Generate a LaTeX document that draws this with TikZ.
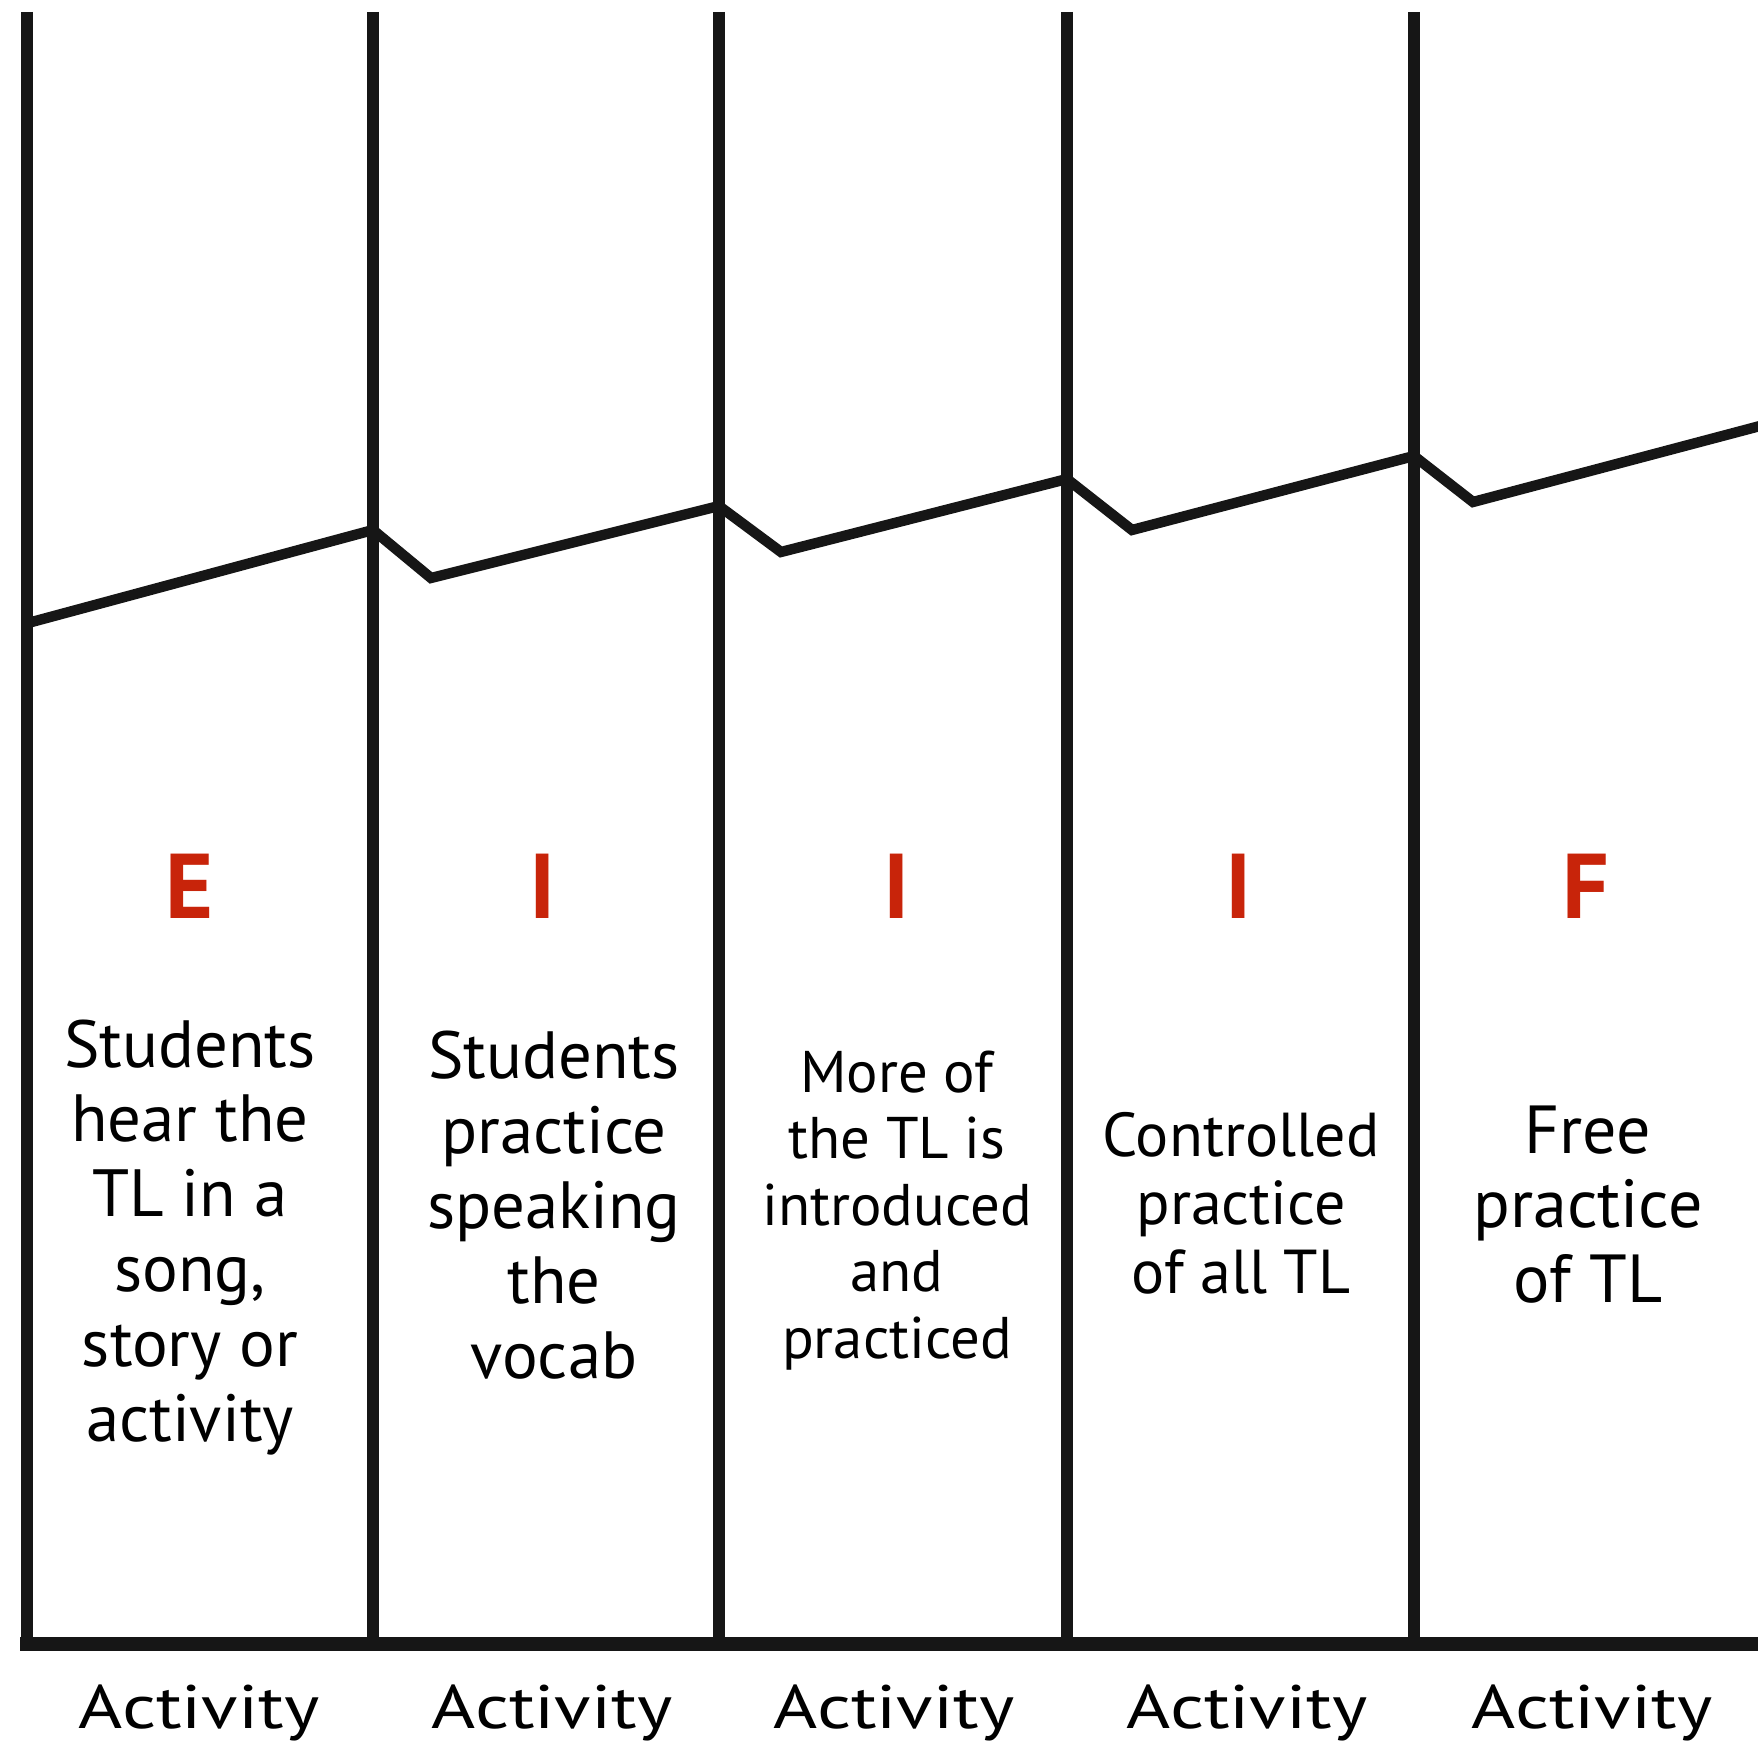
\documentclass[tikz,border=0pt]{standalone}
\usepackage{fontspec}
\setmainfont{PT Sans}
\definecolor{ink}{RGB}{22,22,22}
\definecolor{letterred}{RGB}{200,36,10}
\tikzset{
  x=0.5pt,y=-0.5pt,
  vline/.style={draw=ink,line width=6.2pt},
  zig/.style={draw=ink,line width=5.2pt,line join=miter},
  baseline rule/.style={draw=ink,line width=6.8pt},
  stage/.style={anchor=base,inner sep=0pt,text=letterred,font=\fontsize{46}{46}\selectfont\bfseries},
  body/.style={anchor=base,inner sep=0pt},
  act/.style={anchor=base,inner sep=0pt,xscale=1.23,font=\fontsize{30.7}{31}\selectfont},
}
\newcommand{\colbox}[3]{\parbox[t]{180pt}{\centering\fontsize{#1}{#2}\selectfont #3}}
\begin{document}
\begin{tikzpicture}
\useasboundingbox (0,0) rectangle (1758,1749);
% bottom rule
\draw[baseline rule] (20,1644) -- (1758,1644);
% vertical lines
\foreach \xx/\nm in {27/a,373/b,719/c,1067/d,1414/e}{
  \coordinate (top\nm) at (\xx,12);
  \coordinate (bot\nm) at (\xx,1642);
  \draw[vline] (top\nm) -- (bot\nm);
}
% rising zigzag
\draw[zig] (28,623) -- (373,530) -- (431,578) -- (719,506) -- (781,552)
  -- (1067,479) -- (1132,530) -- (1414,456) -- (1473,502) -- (1760,426);
% stage letters
\node[stage] (sE) at (190,918) {E};
\node[stage] (sI1) at (543,918) {I};
\node[stage] (sI2) at (897,918) {I};
\node[stage] (sI3) at (1239,918) {I};
\node[stage] (sF) at (1586,918) {F};
% descriptions
\node[body] (d1) at (190,1067) {\colbox{33.4}{37.4}{Students\\hear the\\TL in a\\song,\\story or\\activity}};
\node[body] (d2) at (554,1078) {\colbox{33.4}{37.5}{Students\\practice\\speaking\\the\\vocab}};
\node[body] (d3) at (897,1092) {\colbox{29.4}{33.25}{More of\\the TL is\\introduced\\and\\practiced}};
\node[body] (d4) at (1241,1156) {\colbox{31}{34.25}{Controlled\\practice\\of all TL}};
\node[body] (d5) at (1588,1153) {\colbox{34}{37.25}{Free\\practice\\of TL}};
% activity labels
\node[act] (a1) at (199,1728) {Activity};
\node[act] (a2) at (552,1728) {Activity};
\node[act] (a3) at (894,1728) {Activity};
\node[act] (a4) at (1247,1728) {Activity};
\node[act] (a5) at (1592,1728) {Activity};
\end{tikzpicture}
\end{document}
